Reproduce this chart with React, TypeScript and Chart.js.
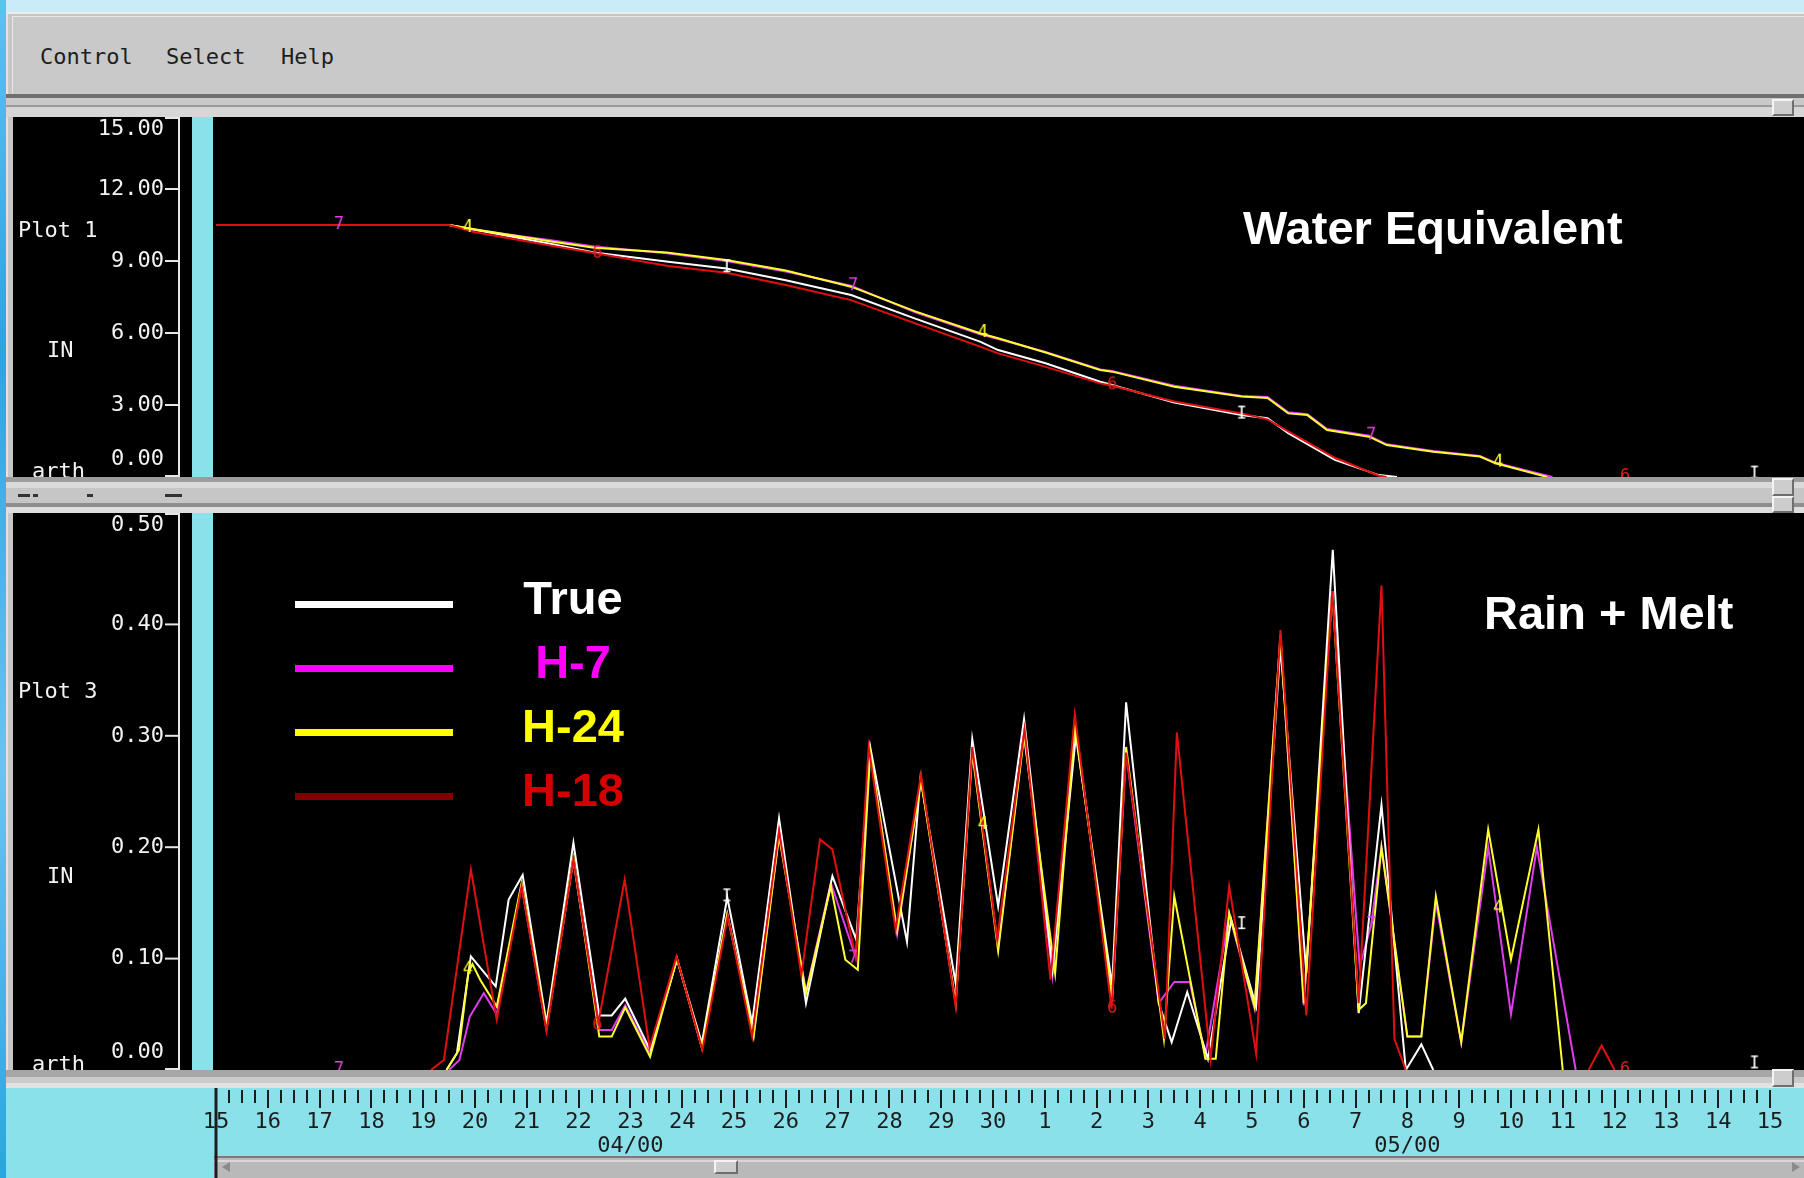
import React, { useEffect, useRef } from 'react';
import { Chart, registerables } from 'chart.js';

Chart.register(...registerables);

// ---------- time axis (days after Apr 15, 2000) ----------
const dayTicks = [0, 1, 2, 3, 4, 5, 6, 7, 8, 9, 10, 11, 12, 13, 14, 15, 16, 17, 18, 19, 20, 21, 22, 23, 24, 25, 26, 27, 28, 29, 30];
const dayLabels = ['15', '16', '17', '18', '19', '20', '21', '22', '23', '24', '25', '26', '27', '28', '29', '30', '1', '2', '3', '4', '5', '6', '7', '8', '9', '10', '11', '12', '13', '14', '15'];
const monthTickDays = [8, 23];
const monthTickLabels = ['04/00', '05/00'];
const AXIS_START = -0.695;
const AXIS_END = 30.58;

// ---------- Plot 1: water equivalent (IN) ----------
const weTicks = [0, 3, 6, 9, 12, 15];
const weTrueDay = [0, 4.5, 5.0, 6.5, 7.3, 8.73, 9.85, 11.0, 12.26, 13.5, 14.75, 15.1, 16.0, 17.07, 17.3, 18.5, 19.8, 20.3, 20.7, 21.6, 22.45, 22.8];
const weTrueIn = [10.5, 10.5, 10.3, 9.7, 9.35, 8.97, 8.69, 8.2, 7.58, 6.6, 5.64, 5.29, 4.75, 3.97, 3.83, 3.1, 2.58, 2.45, 1.83, 0.71, 0.08, 0];
const weH18Day = [0, 4.5, 5.0, 6.56, 7.3, 8.73, 9.85, 11.0, 12.26, 13.5, 14.75, 15.1, 16.0, 17.07, 17.3, 18.5, 19.8, 20.3, 20.7, 21.6, 22.45, 22.6];
const weH18In = [10.5, 10.5, 10.2, 9.6, 9.33, 8.79, 8.51, 8.0, 7.37, 6.4, 5.43, 5.15, 4.6, 3.9, 3.8, 3.15, 2.65, 2.4, 1.9, 0.8, 0.05, 0];
const weH24Day = [0, 4.5, 4.9, 6.5, 7.3, 8.7, 9.85, 11.0, 12.26, 13.5, 14.75, 15.1, 16.0, 17.07, 17.3, 18.5, 19.8, 20.3, 20.7, 21.07, 21.45, 22.26, 22.6, 23.5, 24.4, 24.7, 25.7];
const weH24In = [10.5, 10.5, 10.35, 9.8, 9.55, 9.35, 9.04, 8.6, 7.93, 6.9, 5.99, 5.78, 5.2, 4.46, 4.39, 3.76, 3.35, 3.29, 2.65, 2.58, 1.96, 1.68, 1.33, 1.05, 0.85, 0.57, 0];
const weH7Day = [0, 4.5, 4.9, 6.5, 7.3, 8.7, 9.85, 11.0, 12.26, 13.5, 14.75, 15.1, 16.0, 17.07, 17.3, 18.5, 19.8, 20.3, 20.7, 21.07, 21.45, 22.26, 22.6, 23.5, 24.4, 24.7, 25.8];
const weH7In = [10.5, 10.5, 10.32, 9.85, 9.6, 9.32, 9.0, 8.56, 7.97, 6.86, 5.95, 5.75, 5.22, 4.48, 4.42, 3.8, 3.38, 3.33, 2.7, 2.62, 2.0, 1.72, 1.36, 1.08, 0.88, 0.6, 0];

// ---------- Plot 3: rain + melt (IN per 6 h) ----------
const rmTicks = [0, 0.1, 0.2, 0.3, 0.4, 0.5];
const rmTrueDay = [4.45, 4.65, 4.92, 5.4, 5.65, 5.92, 6.38, 6.9, 7.4, 7.64, 7.9, 8.38, 8.9, 9.38, 9.87, 10.35, 10.87, 11.39, 11.9, 12.36, 12.63, 13.34, 13.6, 14.28, 14.6, 15.1, 15.6, 16.15, 16.6, 17.3, 17.57, 18.2, 18.45, 18.75, 19.15, 19.6, 20.08, 20.55, 21.05, 21.56, 22.06, 22.5, 22.97, 23.27, 23.5];
const rmTrueIn = [0, 0.015, 0.102, 0.075, 0.153, 0.175, 0.042, 0.204, 0.049, 0.049, 0.064, 0.018, 0.099, 0.024, 0.155, 0.042, 0.226, 0.06, 0.174, 0.117, 0.29, 0.115, 0.262, 0.078, 0.297, 0.147, 0.315, 0.09, 0.3, 0.076, 0.33, 0.06, 0.025, 0.07, 0.01, 0.135, 0.057, 0.38, 0.087, 0.467, 0.051, 0.238, 0, 0.023, 0];
const rmH18Day = [4.15, 4.4, 4.92, 5.42, 5.9, 6.38, 6.9, 7.38, 7.89, 8.37, 8.89, 9.39, 9.88, 10.35, 10.87, 11.3, 11.66, 11.9, 12.35, 12.6, 13.12, 13.61, 14.28, 14.6, 15.08, 15.61, 16.11, 16.58, 17.29, 17.57, 18.32, 18.55, 19.2, 19.56, 20.08, 20.55, 21.05, 21.55, 22.06, 22.5, 22.75, 22.97, 25, 26.5, 26.75, 27.0];
const rmH18In = [0, 0.009, 0.18, 0.045, 0.165, 0.035, 0.189, 0.042, 0.171, 0.02, 0.102, 0.018, 0.138, 0.03, 0.215, 0.085, 0.207, 0.198, 0.101, 0.29, 0.126, 0.265, 0.057, 0.29, 0.117, 0.306, 0.081, 0.319, 0.055, 0.285, 0.028, 0.303, 0.01, 0.165, 0.015, 0.395, 0.049, 0.43, 0.06, 0.435, 0.028, 0, null, 0, 0.022, 0];
const rmH24Day = [4.45, 4.69, 4.87, 4.95, 5.1, 5.42, 5.9, 6.38, 6.9, 7.4, 7.64, 7.9, 8.38, 8.9, 9.38, 9.87, 10.38, 10.87, 11.39, 11.87, 12.15, 12.39, 12.63, 13.15, 13.61, 14.28, 14.6, 15.1, 15.6, 16.2, 16.58, 17.3, 17.57, 18.3, 18.5, 19.1, 19.3, 19.56, 20.05, 20.55, 21.0, 21.55, 22.06, 22.2, 22.5, 23.0, 23.27, 23.55, 24.04, 24.56, 25.0, 25.53, 26.0];
const rmH24In = [0, 0.018, 0.087, 0.095, 0.081, 0.057, 0.168, 0.038, 0.19, 0.03, 0.03, 0.056, 0.012, 0.1, 0.02, 0.14, 0.03, 0.21, 0.069, 0.165, 0.099, 0.09, 0.285, 0.125, 0.26, 0.06, 0.285, 0.107, 0.3, 0.087, 0.31, 0.065, 0.29, 0.028, 0.156, 0.01, 0.01, 0.141, 0.057, 0.39, 0.06, 0.43, 0.054, 0.06, 0.2, 0.03, 0.03, 0.156, 0.025, 0.216, 0.099, 0.216, 0];
const rmH7Day = [4.5, 4.7, 4.9, 5.17, 5.42, 5.9, 6.38, 6.9, 7.4, 7.64, 7.9, 8.38, 8.9, 9.38, 9.87, 10.38, 10.87, 11.39, 11.87, 12.35, 12.63, 13.15, 13.61, 14.28, 14.6, 15.1, 15.6, 16.15, 16.58, 17.3, 17.57, 18.2, 18.5, 18.8, 19.1, 19.56, 20.05, 20.55, 21.0, 21.55, 22.08, 22.3, 22.5, 23.0, 23.27, 23.55, 24.04, 24.56, 25.0, 25.5, 26.25];
const rmH7In = [0, 0.009, 0.048, 0.069, 0.05, 0.165, 0.036, 0.188, 0.036, 0.036, 0.058, 0.015, 0.1, 0.02, 0.14, 0.032, 0.212, 0.07, 0.168, 0.101, 0.287, 0.122, 0.262, 0.06, 0.288, 0.11, 0.303, 0.085, 0.315, 0.06, 0.285, 0.06, 0.079, 0.079, 0.013, 0.14, 0.055, 0.39, 0.058, 0.43, 0.093, 0.13, 0.2, 0.03, 0.03, 0.15, 0.025, 0.2, 0.05, 0.2, 0];

// ---------- series identifier symbols along each trace ----------
const h7MarkDays = [2.37, 12.3, 22.3];
const h24MarkDays = [4.86, 14.8, 24.75];
const h18MarkDays = [7.36, 17.3, 27.2];
const trueMarkDays = [9.86, 19.8, 29.7];
const weH7Mark = [10.5, 7.95, 1.72];
const weH24Mark = [10.38, 6.0, 0.6];
const weH18Mark = [9.3, 3.82, 0];
const weTrueMark = [8.7, 2.6, 0.1];
const rmH7Mark = [0, 0.1, 0.13];
const rmH24Mark = [0.09, 0.22, 0.145];
const rmH18Mark = [0.04, 0.055, 0];
const rmTrueMark = [0.155, 0.13, 0.005];

// ---------- legend ----------
const legendNames = ['True', 'H-7', 'H-24', 'H-18'];
const legendSwatch = ['#ffffff', '#ff00ff', '#ffff00', '#800000'];
const legendText = ['#ffffff', '#ff00ff', '#ffff00', '#d40000'];

const TRUE_LINE = '#ffffff';
const H7_LINE = '#e03cf0';
const H24_LINE = '#ffff30';
const H18_LINE = '#e01010';

const MONO = '"DejaVu Sans Mono", "Liberation Mono", monospace';
const SANS = '"Liberation Sans", Arial, sans-serif';
const CYAN = '#8be1ea';
const PANEL_LEFT = 13;
const PANEL_W = 1791;
const GUTTER = 167;

type LineSpec = { days: number[]; vals: (number | null)[]; color: string; order: number };
type MarkSpec = { days: number[]; vals: number[]; ch: string; color: string };
type SideText = { text: string; x: number; y: number };

const toPoints = (days: number[], vals: (number | null)[]) => days.map((d, i) => ({ x: d, y: vals[i] }));

function glyph(ch: string, color: string): HTMLCanvasElement {
  const c = document.createElement('canvas');
  c.width = 14;
  c.height = 20;
  const g = c.getContext('2d')!;
  g.font = `17px ${MONO}`;
  g.fillStyle = color;
  g.textAlign = 'center';
  g.textBaseline = 'middle';
  g.fillText(ch, 7, 10);
  return c;
}

// Left-hand value scale, cyan gutter and captions of a plot panel.
function makePanelPlugin(ticks: number[], side: SideText[], decimals: number) {
  return {
    id: 'panel',
    beforeDatasetsDraw(chart: any) {
      const { ctx, chartArea: a } = chart;
      ctx.save();
      ctx.fillStyle = CYAN;
      ctx.fillRect(a.left + 12, a.top, 21, a.bottom - a.top);
      ctx.restore();
    },
    afterDraw(chart: any) {
      const { ctx, chartArea: a, scales } = chart;
      const y = scales.y;
      ctx.save();
      ctx.strokeStyle = '#e6e6e6';
      ctx.lineWidth = 2;
      ctx.beginPath();
      ctx.moveTo(a.left - 1, a.top);
      ctx.lineTo(a.left - 1, a.bottom);
      ctx.stroke();
      ctx.font = `22px ${MONO}`;
      ctx.fillStyle = '#f2f2f2';
      ctx.textAlign = 'right';
      ctx.textBaseline = 'middle';
      for (const v of ticks) {
        const py = y.getPixelForValue(v);
        const ty = Math.min(Math.max(py, a.top + 1), a.bottom - 1);
        ctx.beginPath();
        ctx.moveTo(a.left - 15, ty);
        ctx.lineTo(a.left, ty);
        ctx.stroke();
        const ly = Math.min(Math.max(py, a.top + 12), a.bottom - 18);
        ctx.fillText(v.toFixed(decimals), a.left - 16, ly);
      }
      ctx.textAlign = 'left';
      ctx.textBaseline = 'alphabetic';
      for (const t of side) ctx.fillText(t.text, t.x, t.y);
      ctx.restore();
    },
  };
}

function PlotPanel(props: {
  top: number; height: number; yMax: number; ticks: number[]; decimals: number;
  lines: LineSpec[]; marks: MarkSpec[]; side: SideText[];
}) {
  const ref = useRef<HTMLCanvasElement>(null);
  useEffect(() => {
    const datasets: any[] = [
      ...props.marks.map((m) => ({
        data: toPoints(m.days, m.vals),
        showLine: false,
        pointStyle: glyph(m.ch, m.color),
        pointRadius: 4,
        order: 0,
      })),
      ...props.lines.map((s) => ({
        data: toPoints(s.days, s.vals),
        borderColor: s.color,
        borderWidth: 2,
        pointRadius: 0,
        tension: 0,
        spanGaps: false,
        fill: false,
        order: s.order,
      })),
    ];
    const chart = new Chart(ref.current!, {
      type: 'line',
      data: { datasets },
      options: {
        animation: false,
        responsive: false,
        devicePixelRatio: 1,
        events: [],
        layout: { autoPadding: false, padding: { left: GUTTER, right: 4, top: 0, bottom: 0 } },
        plugins: { legend: { display: false }, tooltip: { enabled: false } },
        scales: {
          x: { type: 'linear', min: AXIS_START, max: AXIS_END, display: false },
          y: { type: 'linear', min: 0, max: props.yMax, display: false },
        },
      },
      plugins: [makePanelPlugin(props.ticks, props.side, props.decimals)],
    } as any);
    return () => chart.destroy();
  }, []);
  return (
    <canvas
      ref={ref}
      width={PANEL_W}
      height={props.height}
      style={{ position: 'absolute', left: PANEL_LEFT, top: props.top, width: PANEL_W, height: props.height, background: '#000' }}
    />
  );
}

// Minor 6-hour ticks and the start-of-window marker on the date strip.
const minorTickDays = dayTicks.slice(0, -1).flatMap((d) => [d + 0.25, d + 0.5, d + 0.75]);
const stripPlugin = {
  id: 'strip',
  afterDraw(chart: any) {
    const { ctx, scales } = chart;
    const x = scales.x;
    ctx.save();
    ctx.strokeStyle = '#1c1c1c';
    ctx.lineWidth = 2;
    for (const v of minorTickDays) {
      const px = Math.round(x.getPixelForValue(v));
      ctx.beginPath();
      ctx.moveTo(px, x.top);
      ctx.lineTo(px, x.top + 13);
      ctx.stroke();
    }
    ctx.lineWidth = 3;
    const p0 = x.getPixelForValue(dayTicks[0]);
    ctx.beginPath();
    ctx.moveTo(p0, 0);
    ctx.lineTo(p0, chart.height);
    ctx.stroke();
    ctx.restore();
  },
};

function TimeAxis({ top }: { top: number }) {
  const ref = useRef<HTMLCanvasElement>(null);
  useEffect(() => {
    const chart = new Chart(ref.current!, {
      type: 'line',
      data: { datasets: [] },
      options: {
        animation: false,
        responsive: false,
        devicePixelRatio: 1,
        events: [],
        layout: { autoPadding: false, padding: { left: GUTTER, right: 4, top: 0, bottom: 0 } },
        plugins: { legend: { display: false }, tooltip: { enabled: false } },
        scales: {
          x: {
            type: 'linear',
            position: 'bottom',
            min: AXIS_START,
            max: AXIS_END,
            afterBuildTicks: (s: any) => { s.ticks = dayTicks.map((v) => ({ value: v })); },
            afterFit: (s: any) => { s.height = 88; },
            ticks: {
              autoSkip: false,
              maxRotation: 0,
              minRotation: 0,
              padding: 2,
              color: '#1c1c1c',
              font: { family: MONO, size: 22, lineHeight: 1.1 },
              callback: (v: any) => {
                const i = dayTicks.indexOf(Number(v));
                const m = monthTickDays.indexOf(Number(v));
                return m >= 0 ? [dayLabels[i], monthTickLabels[m]] : dayLabels[i];
              },
            },
            grid: { drawOnChartArea: false, drawTicks: true, tickLength: 18, color: '#1c1c1c', lineWidth: 2 },
            border: { display: false },
          },
          y: { display: false, min: 0, max: 1 },
        },
      },
      plugins: [stripPlugin],
    } as any);
    return () => chart.destroy();
  }, []);
  return (
    <canvas
      ref={ref}
      width={PANEL_W}
      height={90}
      style={{ position: 'absolute', left: PANEL_LEFT, top, width: PANEL_W, height: 90 }}
    />
  );
}

const box = (left: number, top: number, width: number, height: number, background: string, extra: any = {}) => (
  <div style={{ position: 'absolute', left, top, width, height, background, ...extra }} />
);

const thumb = (left: number, top: number, width: number, height: number) => (
  <div
    style={{
      position: 'absolute', left, top, width, height, boxSizing: 'border-box', background: '#cdcdcd',
      borderTop: '2px solid #f4f4f4', borderLeft: '2px solid #f4f4f4', borderBottom: '2px solid #6e6e6e', borderRight: '2px solid #6e6e6e',
    }}
  />
);

const textAt = (text: string, left: number, top: number, color: string, size: number, family: string, weight = 'normal', extra: any = {}) => (
  <div
    style={{
      position: 'absolute', left, top, color, fontSize: size, fontFamily: family, fontWeight: weight as any,
      lineHeight: `${size}px`, whiteSpace: 'pre', ...extra,
    }}
  >
    {text}
  </div>
);

export default function App() {
  const weLines: LineSpec[] = [
    { days: weH18Day, vals: weH18In, color: H18_LINE, order: 1 },
    { days: weH24Day, vals: weH24In, color: H24_LINE, order: 2 },
    { days: weTrueDay, vals: weTrueIn, color: TRUE_LINE, order: 3 },
    { days: weH7Day, vals: weH7In, color: H7_LINE, order: 4 },
  ];
  const weMarks: MarkSpec[] = [
    { days: h7MarkDays, vals: weH7Mark, ch: '7', color: '#e040e8' },
    { days: h24MarkDays, vals: weH24Mark, ch: '4', color: '#ffff30' },
    { days: h18MarkDays, vals: weH18Mark, ch: '6', color: '#e02020' },
    { days: trueMarkDays, vals: weTrueMark, ch: 'I', color: '#ffffff' },
  ];
  const rmLines: LineSpec[] = [
    { days: rmH18Day, vals: rmH18In, color: H18_LINE, order: 1 },
    { days: rmH24Day, vals: rmH24In, color: H24_LINE, order: 2 },
    { days: rmTrueDay, vals: rmTrueIn, color: TRUE_LINE, order: 3 },
    { days: rmH7Day, vals: rmH7In, color: H7_LINE, order: 4 },
  ];
  const rmMarks: MarkSpec[] = [
    { days: h7MarkDays, vals: rmH7Mark, ch: '7', color: '#e040e8' },
    { days: h24MarkDays, vals: rmH24Mark, ch: '4', color: '#ffff30' },
    { days: h18MarkDays, vals: rmH18Mark, ch: '6', color: '#e02020' },
    { days: trueMarkDays, vals: rmTrueMark, ch: 'I', color: '#ffffff' },
  ];

  const legendTop = [600.5, 665, 729, 793];

  return (
    <div style={{ position: 'fixed', left: 0, top: 0, width: 1804, height: 1178, overflow: 'hidden', background: 'linear-gradient(180deg, #c9ecf8 0%, #b9e5f5 100%)' }}>
      {box(0, 0, 6, 1178, 'linear-gradient(180deg, #5cc3ec 0%, #2aa6de 30%, #68c6ea 65%, #2aa6de 100%)')}
      {/* window frame */}
      {box(6, 12, 1798, 1166, '#c6c6c6', { borderTop: '2px solid #ececec', borderLeft: '2px solid #e2e2e2', boxSizing: 'border-box' })}
      {/* menu bar */}
      {box(12, 16, 1792, 78, '#c9c9c9', { borderTop: '1px solid #e8e8e8', borderLeft: '1px solid #e8e8e8', boxSizing: 'border-box' })}
      {textAt('Control', 40, 46, '#1e1e1e', 22, MONO)}
      {textAt('Select', 166, 46, '#1e1e1e', 22, MONO)}
      {textAt('Help', 281, 46, '#1e1e1e', 22, MONO)}
      {box(6, 94, 1798, 4, '#6f6f6f')}
      {box(6, 98, 1798, 7, '#c9c9c9')}
      {box(6, 105, 1798, 2, '#9a9a9a')}
      {box(6, 107, 1798, 10, '#d6d6d6')}
      {thumb(1772, 99, 22, 17)}

      <PlotPanel
        top={117}
        height={360}
        yMax={15}
        ticks={weTicks}
        decimals={2}
        lines={weLines}
        marks={weMarks}
        side={[
          { text: 'Plot 1', x: 5, y: 120 },
          { text: 'IN', x: 34, y: 240 },
          { text: 'arth', x: 19, y: 361 },
        ]}
      />

      {/* separator between the plots */}
      {box(6, 477, 1798, 5, '#9c9c9c')}
      {box(6, 482, 1798, 6, '#dadada')}
      {box(6, 488, 1798, 15, '#c6c6c6')}
      {box(18, 494, 12, 3, '#333')}
      {box(33, 494, 5, 3, '#333')}
      {box(87, 494, 6, 3, '#333')}
      {box(165, 494, 17, 3, '#333')}
      {box(6, 503, 1798, 4, '#8e8e8e')}
      {box(6, 507, 1798, 6, '#dedede')}
      {thumb(1772, 478, 22, 18)}
      {thumb(1772, 496, 22, 17)}

      <PlotPanel
        top={513}
        height={557}
        yMax={0.5}
        ticks={rmTicks}
        decimals={2}
        lines={rmLines}
        marks={rmMarks}
        side={[
          { text: 'Plot 3', x: 5, y: 185 },
          { text: 'IN', x: 34, y: 370 },
          { text: 'arth', x: 19, y: 558 },
        ]}
      />

      {/* legend */}
      {legendNames.map((n, i) => (
        <React.Fragment key={n}>
          {box(295, legendTop[i], 158, 7, legendSwatch[i])}
          {textAt(n, 473, legendTop[i] - 27, legendText[i], 47, SANS, 'bold', { width: 200, textAlign: 'center' })}
        </React.Fragment>
      ))}
      {textAt('Water Equivalent', 1243, 204, '#ffffff', 47, SANS, 'bold')}
      {textAt('Rain + Melt', 1484, 589, '#ffffff', 47, SANS, 'bold')}

      {/* date strip */}
      {box(6, 1070, 1798, 7, '#a6a6a6')}
      {box(6, 1077, 1798, 6, '#cacaca')}
      {box(6, 1083, 1798, 5, '#e2e2e2')}
      {thumb(1772, 1069, 22, 18)}
      {box(6, 1088, 1798, 90, CYAN)}
      {box(214, 1156, 1590, 22, '#b9b9b9', { borderTop: '2px solid #7a7a7a', boxSizing: 'border-box' })}
      {box(214, 1160, 1590, 2, '#d8d8d8')}
      {thumb(714, 1160, 24, 14)}
      {box(222, 1162, 8, 10, '#8a8a8a', { clipPath: 'polygon(0 50%, 100% 0, 100% 100%)' })}
      {box(1792, 1162, 8, 10, '#8a8a8a', { clipPath: 'polygon(0 0, 100% 50%, 0 100%)' })}
      <TimeAxis top={1088} />
    </div>
  );
}
